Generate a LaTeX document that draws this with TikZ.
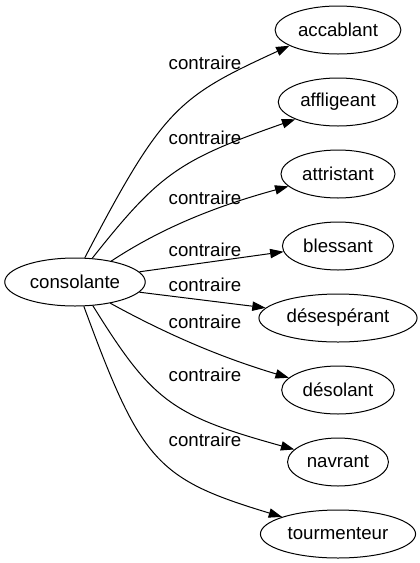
\documentclass[tikz,border=0pt]{standalone}
\usepackage{fontspec}
\setmainfont{Liberation Sans}
\usetikzlibrary{shapes.geometric, arrows.meta}

\begin{document}
\begin{tikzpicture}[
    x=0.75bp, y=-0.75bp,
    word/.style={ellipse, draw, line width=0.75bp, minimum height=36bp, inner xsep=3.4bp, inner ysep=2bp, font=\fontsize{14bp}{16bp}\selectfont},
    rel/.style={inner sep=0pt, font=\fontsize{14bp}{16bp}\selectfont},
    arrow/.style={-{Triangle[length=10bp, width=7bp]}, line width=0.75bp},
]
\useasboundingbox (0,0) rectangle (420,563);

% ============ SOURCE WORD ============
\node[word] (cons) at (75,282) {consolante};

% ============ OPPOSITES ============
\node[word] (acc) at (338,30) {accablant};
\node[word] (aff) at (338,102) {affligeant};
\node[word] (att) at (338,174) {attristant};
\node[word] (ble) at (338,246) {blessant};
\node[word] (dse) at (338,318) {désespérant};
\node[word] (dso) at (338,390) {désolant};
\node[word] (nav) at (338,462) {navrant};
\node[word] (tou) at (338,534) {tourmenteur};

% ============ EDGE LABELS ============
\node[rel] (lacc) at (205,63) {contraire};
\node[rel] (laff) at (205,138) {contraire};
\node[rel] (latt) at (205,198) {contraire};
\node[rel] (lble) at (205,250) {contraire};
\node[rel] (ldse) at (205,285) {contraire};
\node[rel] (ldso) at (205,322) {contraire};
\node[rel] (lnav) at (205,375) {contraire};
\node[rel] (ltou) at (205,440) {contraire};

% ============ ARROWS ============
\draw[arrow] (cons.68) .. controls (163,108) and (178,97) .. (acc.198);
\draw[arrow] (cons.54) .. controls (159.5,173.4) and (179,160) .. (aff.202);
\draw[arrow] (cons.30) .. controls (160,229) and (213,207) .. (att.194);
\draw[arrow] (cons.9) -- (ble.186);
\draw[arrow] (cons.-9) -- (dse.172);
\draw[arrow] (cons.-31) .. controls (170,336) and (223,358) .. (dso.166);
\draw[arrow] (cons.-53) .. controls (152.5,401.8) and (172,415.5) .. (nav.164);
\draw[arrow] (cons.-70) .. controls (141,462) and (156.6,479) .. (tou.163);

\end{tikzpicture}
\end{document}
